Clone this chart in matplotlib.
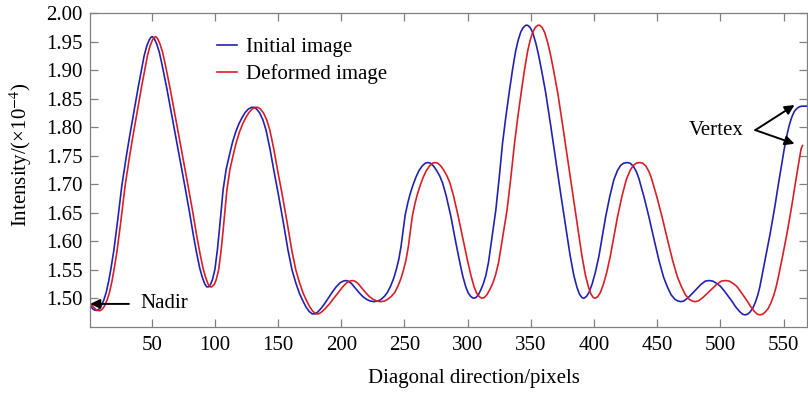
"""Intensity profile along the image diagonal: initial vs deformed image."""

import matplotlib
matplotlib.use("Agg")
import matplotlib.pyplot as plt

plt.rcParams["font.family"] = ["Liberation Serif", "DejaVu Serif"]
plt.rcParams["mathtext.fontset"] = "stix"

BLUE = "#2222b0"
RED = "#d91f26"
AXIS_GREY = "#808080"

# initial image (pixel, intensity x1e-4)
init_x = [1, 2, 3.5, 5, 6.5, 8, 10, 12, 14, 16, 18, 20, 23, 26.3, 30, 33, 36,
          39.4, 42, 44, 46, 48, 49.5, 50.5, 52, 54, 56, 58, 60, 62, 66, 70,
          73, 76.3, 80, 83, 85.5, 88, 90, 92, 93.5, 95, 96.5, 98, 100, 102,
          104, 106.5, 109, 111.8, 114, 116.5, 119, 121.5, 124, 126.5, 129,
          131, 133, 135.5, 138, 140.5, 143.6, 147, 150, 154, 157.8, 161, 164,
          167, 169.7, 172, 174.5, 177, 179, 181, 184, 187, 190, 193, 196, 199,
          201.5, 203.5, 205.5, 208, 211, 214, 217, 220, 223, 226, 229, 231.5,
          234, 236.5, 239, 241.5, 243.5, 245.5, 247.3, 249, 250.5, 252.6,
          254.5, 256.5, 259, 261.5, 264, 266.5, 268.5, 270.5, 273, 275.5, 278,
          280.2, 283, 286.8, 290, 293.4, 296, 298.5, 300.5, 302.5, 304.5,
          306.5, 308.5, 310.5, 312.5, 314.4, 316.5, 318.5, 320.5, 322.3, 325,
          327.6, 330.2, 332.8, 335.5, 338, 340, 342, 344, 346, 347.5, 349.5,
          351.5, 353.9, 356, 358.5, 361.8, 365.5, 369.7, 373.5, 377.6, 381,
          384, 386.5, 388.5, 390.5, 392, 394, 396, 398.5, 401, 403.8, 406.5,
          409.2, 412.5, 415.7, 418.5, 421, 423.5, 426, 428.5, 431, 433.5,
          435.5, 439.5, 443.4, 447.5, 451.3, 455, 458, 461, 464, 466.5, 468.5,
          471, 474, 477.6, 481, 484.5, 488, 491, 494, 497, 500, 503, 506, 509,
          512, 515, 517.5, 519.5, 521.5, 523.5, 525.5, 527.5, 529.5, 531.2,
          532.8, 536, 539.4, 543, 546, 548.5, 550.5, 552.5, 554.5, 556.5,
          558.5, 560.5, 562.5, 564.5, 566, 568]
init_y = [1.490, 1.485, 1.481, 1.479, 1.4785, 1.480, 1.486, 1.496, 1.510,
          1.530, 1.555, 1.583, 1.635, 1.696, 1.750, 1.790, 1.828, 1.871, 1.902,
          1.925, 1.942, 1.953, 1.958, 1.959, 1.956, 1.946, 1.932, 1.912, 1.890,
          1.868, 1.820, 1.772, 1.735, 1.696, 1.650, 1.610, 1.580, 1.553, 1.537,
          1.525, 1.520, 1.520, 1.524, 1.532, 1.550, 1.585, 1.630, 1.690, 1.727,
          1.754, 1.774, 1.792, 1.806, 1.817, 1.826, 1.832, 1.835, 1.835, 1.832,
          1.825, 1.813, 1.795, 1.762, 1.720, 1.685, 1.635, 1.585, 1.550, 1.527,
          1.508, 1.495, 1.485, 1.477, 1.4725, 1.4725, 1.475, 1.482, 1.491,
          1.501, 1.511, 1.520, 1.527, 1.530, 1.531, 1.530, 1.526, 1.518, 1.510,
          1.503, 1.498, 1.495, 1.494, 1.495, 1.498, 1.503, 1.510, 1.521, 1.535,
          1.550, 1.568, 1.591, 1.620, 1.645, 1.667, 1.683, 1.697, 1.712, 1.724,
          1.732, 1.737, 1.738, 1.737, 1.732, 1.724, 1.714, 1.702, 1.680, 1.643,
          1.605, 1.567, 1.540, 1.520, 1.509, 1.503, 1.500, 1.501, 1.506, 1.515,
          1.526, 1.540, 1.563, 1.595, 1.628, 1.655, 1.712, 1.772, 1.818, 1.860,
          1.901, 1.934, 1.953, 1.967, 1.975, 1.979, 1.979, 1.975, 1.966, 1.948,
          1.928, 1.900, 1.860, 1.806, 1.743, 1.685, 1.626, 1.576, 1.540, 1.519,
          1.507, 1.501, 1.500, 1.503, 1.510, 1.525, 1.545, 1.573, 1.608, 1.643,
          1.679, 1.708, 1.724, 1.733, 1.737, 1.738, 1.737, 1.732, 1.722, 1.710,
          1.678, 1.643, 1.603, 1.567, 1.537, 1.520, 1.506, 1.498, 1.495, 1.494,
          1.495, 1.500, 1.508, 1.516, 1.524, 1.530, 1.531, 1.530, 1.526, 1.521,
          1.513, 1.504, 1.495, 1.485, 1.477, 1.472, 1.4707, 1.472, 1.476,
          1.482, 1.492, 1.505, 1.520, 1.538, 1.575, 1.614, 1.660, 1.702, 1.735,
          1.762, 1.785, 1.804, 1.818, 1.828, 1.833, 1.836, 1.837, 1.837, 1.837]

# deformed image
def_x = [1, 2.5, 4, 6, 8, 9.5, 11, 12.6, 14.6, 16.6, 18.6, 20.6, 22.6, 25.6,
         28.9, 32.6, 35.6, 38.6, 42, 44.6, 46.6, 48.6, 50.6, 52.1, 53.1, 54.6,
         56.6, 58.6, 60.6, 62.6, 64.6, 68.6, 72.6, 75.6, 78.9, 82.6, 85.6,
         88.1, 90.6, 92.6, 94.6, 96.1, 97.6, 99.5, 101, 103, 105, 107, 109.5,
         112, 114.8, 117, 119.5, 122, 124.5, 127, 129.5, 132, 134, 136, 138.5,
         141, 143.5, 146.6, 150, 153, 157, 160.8, 164, 167, 170, 172.7, 175,
         177.5, 180, 182, 184, 187.5, 191, 194.5, 198, 201.2, 204.2, 206.7,
         208.7, 210.7, 213.2, 216.2, 219.2, 222.2, 225.2, 228.2, 231.2, 234.2,
         236.7, 239.5, 242.3, 244.8, 247.3, 249.3, 251.3, 253.1, 254.8, 256.3,
         258.4, 260.3, 262.3, 264.8, 267.3, 269.8, 272.3, 274.3, 276.3, 278.8,
         281.3, 283.8, 286, 288.8, 292.6, 296.2, 299.8, 302.6, 305.1, 307.1,
         309.1, 311.1, 313.1, 315.2, 317.5, 319.8, 322, 324.5, 326.8, 329.1,
         331.2, 334.2, 337.1, 339.7, 342.3, 345, 347.5, 349.5, 351.5, 353.5,
         355.5, 357, 359, 361, 363.4, 365.5, 368, 371.3, 375, 379.2, 383, 387,
         390.3, 393.2, 395.7, 397.6, 399.5, 401, 403, 405, 407.5, 410, 412.8,
         415.7, 418.6, 422.1, 425.5, 428.5, 431, 433.5, 436, 438.5, 441,
         443.5, 445.5, 449.7, 453.8, 458.1, 462.1, 466, 469.2, 472.3, 475.3,
         477.8, 479.8, 482.3, 485.5, 489.4, 493.1, 496.9, 500.7, 504, 507, 510,
         512.8, 515.6, 518.4, 521.2, 524, 526.8, 529.2, 531.2, 533.4, 535.6,
         537.8, 540, 542.2, 544.1, 545.9, 549.3, 552.7, 556.3, 559.3, 561.8,
         563.8, 565]
def_y = [1.493, 1.488, 1.484, 1.480, 1.478, 1.4785, 1.481, 1.486, 1.496, 1.510,
         1.530, 1.555, 1.583, 1.635, 1.696, 1.750, 1.790, 1.828, 1.871, 1.902,
         1.925, 1.942, 1.953, 1.958, 1.959, 1.956, 1.946, 1.932, 1.912, 1.890,
         1.868, 1.820, 1.772, 1.735, 1.696, 1.650, 1.610, 1.580, 1.553, 1.537,
         1.525, 1.520, 1.520, 1.524, 1.532, 1.550, 1.585, 1.630, 1.690, 1.727,
         1.754, 1.774, 1.792, 1.806, 1.817, 1.826, 1.832, 1.835, 1.835, 1.832,
         1.825, 1.813, 1.795, 1.762, 1.720, 1.685, 1.635, 1.585, 1.550, 1.527,
         1.508, 1.495, 1.485, 1.477, 1.4725, 1.4725, 1.475, 1.482, 1.491,
         1.501, 1.511, 1.520, 1.527, 1.530, 1.531, 1.530, 1.526, 1.518, 1.510,
         1.503, 1.498, 1.495, 1.494, 1.495, 1.498, 1.503, 1.510, 1.521, 1.535,
         1.550, 1.568, 1.591, 1.620, 1.645, 1.667, 1.683, 1.697, 1.712, 1.724,
         1.732, 1.737, 1.738, 1.737, 1.732, 1.724, 1.714, 1.702, 1.680, 1.643,
         1.605, 1.567, 1.540, 1.520, 1.509, 1.503, 1.500, 1.501, 1.506, 1.515,
         1.526, 1.540, 1.563, 1.595, 1.628, 1.655, 1.712, 1.772, 1.818, 1.860,
         1.901, 1.934, 1.953, 1.967, 1.975, 1.979, 1.979, 1.975, 1.966, 1.948,
         1.928, 1.900, 1.860, 1.806, 1.743, 1.685, 1.626, 1.576, 1.540, 1.519,
         1.507, 1.501, 1.500, 1.503, 1.510, 1.525, 1.545, 1.573, 1.608, 1.643,
         1.679, 1.708, 1.724, 1.733, 1.737, 1.738, 1.737, 1.732, 1.722, 1.710,
         1.678, 1.643, 1.603, 1.567, 1.537, 1.520, 1.506, 1.498, 1.495, 1.494,
         1.495, 1.500, 1.508, 1.516, 1.524, 1.530, 1.531, 1.530, 1.526, 1.521,
         1.513, 1.504, 1.495, 1.485, 1.477, 1.472, 1.4707, 1.472, 1.476,
         1.482, 1.492, 1.505, 1.520, 1.538, 1.575, 1.614, 1.660, 1.702, 1.735,
         1.762, 1.768]

x_ticks = [50, 100, 150, 200, 250, 300, 350, 400, 450, 500, 550]
y_ticks = [1.50, 1.55, 1.60, 1.65, 1.70, 1.75, 1.80, 1.85, 1.90, 1.95, 2.00]

fig = plt.figure(figsize=(8.08, 3.97), dpi=100)
ax = fig.add_axes([90 / 808, 70.3 / 397, 717 / 808, 313.4 / 397])

ax.plot(init_x, init_y, color=BLUE, lw=1.2, label="Initial image")
ax.plot(def_x, def_y, color=RED, lw=1.2, label="Deformed image")

ax.set_xlim(1.2, 568.5)
ax.set_ylim(1.45, 2.00)
ax.set_xticks(x_ticks)
ax.set_yticks(y_ticks)
ax.set_yticklabels([f"{v:.2f}" for v in y_ticks])
ax.tick_params(direction="in", length=6, width=0.9, color=AXIS_GREY,
               labelsize=15, top=True, right=True)
ax.tick_params(axis="y", pad=5.5)
ax.tick_params(axis="x", pad=7)
for sp in ax.spines.values():
    sp.set_color(AXIS_GREY)
    sp.set_linewidth(0.9)

ax.set_xlabel("Diagonal direction/pixels", fontsize=15)
ax.xaxis.set_label_coords((474 - 90) / 717, -0.135)
ax.set_ylabel("Intensity/(×10$^{-4}$)", fontsize=15)
ax.yaxis.set_label_coords(-0.078, 0.548)

ax.legend(loc="upper left", bbox_to_anchor=(0.165, 0.95), frameon=False,
          fontsize=15, handlelength=1.0, handletextpad=0.4, labelspacing=0.35,
          borderaxespad=0.0)

arrow = dict(arrowstyle="-|>", color="black", lw=1.4, mutation_scale=14,
             shrinkA=0, shrinkB=0)
ax.annotate("", xy=(1.5, 1.490), xytext=(32, 1.490), arrowprops=arrow)
ax.text(41, 1.491, "Nadir", fontsize=15, ha="left", va="center")

ax.text(518, 1.795, "Vertex", fontsize=15, ha="right", va="center")
ax.annotate("", xy=(558.6, 1.839), xytext=(527.6, 1.795), arrowprops=arrow)
ax.annotate("", xy=(558.6, 1.771), xytext=(527.6, 1.795), arrowprops=arrow)

fig.savefig("out.png", dpi=100)
